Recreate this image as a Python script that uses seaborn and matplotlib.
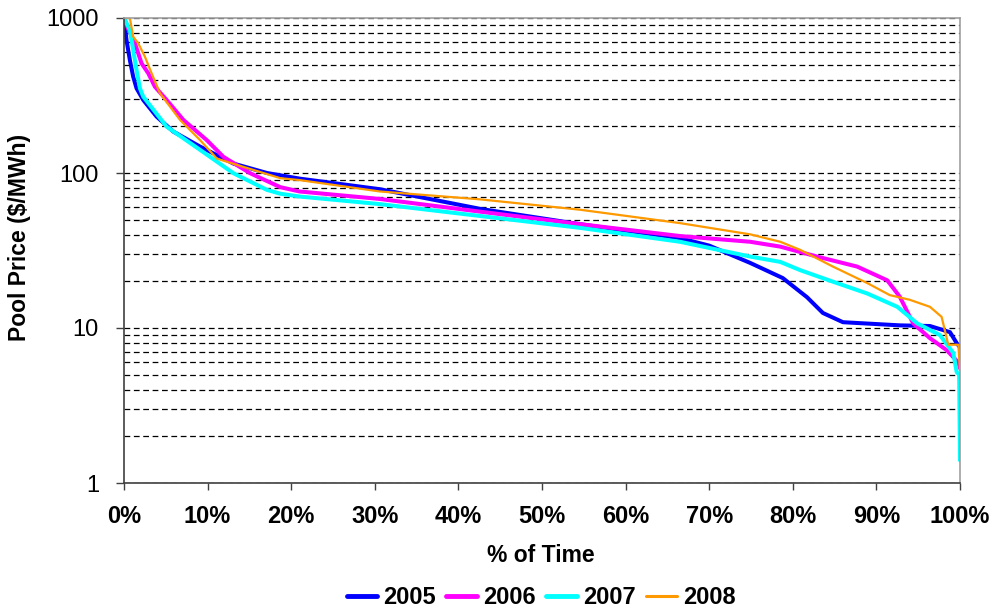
import numpy as np
import pandas as pd
import seaborn as sns
import matplotlib
matplotlib.use("Agg")
import matplotlib.pyplot as plt
from matplotlib.ticker import FixedLocator, FuncFormatter, LogLocator, NullFormatter

# ---- data ----
x_2005 = [0, 0.3, 0.7, 1.1, 1.5, 2.3, 3.9, 5.9, 9.1, 13.1, 17.1, 21, 30.6, 42.6, 54.5,
          66.5, 70, 74.9, 78.8, 81.7, 83.6, 86, 92.8, 96.4, 98.8, 99.6, 100]
y_2005 = [1000, 720, 536, 418, 352, 296, 231, 185, 148, 115, 100, 92, 78.6, 58.7, 46.8,
          38, 34, 26.3, 21, 15.8, 12.5, 10.9, 10.4, 10.3, 9.4, 8, 7.5]

x_2006 = [0, 0.5, 1.3, 1.7, 2.1, 2.9, 3.7, 5.1, 7.1, 9.9, 11.9, 15.1, 18.7, 21, 30.6,
          42.6, 54.5, 66.5, 74.9, 78.5, 82.9, 87.7, 91.3, 92.8, 94.4, 96.4, 98.4, 99.8, 100]
y_2006 = [1000, 850, 687, 592, 510, 440, 360, 296, 220, 163, 127, 99.6, 81, 76, 68,
          56.3, 46.8, 39.2, 36, 33.5, 28.9, 24.9, 20.3, 15.9, 10.7, 8.6, 7.2, 6, 5.5]

x_2007 = [0, 0.7, 1.1, 1.5, 1.9, 2.3, 5.1, 9.1, 13.1, 17.1, 18.7, 21, 30.6, 42.6, 54.5,
          66.5, 74.9, 78.5, 80.9, 84.8, 88.9, 92.5, 94.9, 97.6, 99.2, 99.6, 99.9, 100]
y_2007 = [1000, 837, 622, 462, 352, 311, 199, 141, 99.6, 77.8, 73.5, 70.5, 63, 52.8, 44.3,
          36, 28.9, 26.7, 23.6, 19.9, 16.7, 13.7, 10.7, 9, 6.9, 5.2, 5, 1.4]

x_2008 = [0, 0.7, 1.1, 1.7, 2.5, 3.3, 4.3, 6.7, 9.1, 11.1, 13, 18.7, 21, 30.6, 42.6,
          54.5, 66.5, 74.9, 78.5, 80.9, 84.8, 88.9, 91.6, 94, 96.4, 97.8, 98.6, 99.8, 100]
y_2008 = [1000, 1000, 757, 687, 563, 440, 327, 220, 163, 124, 115, 92.6, 90, 76, 67.6,
          58, 47.5, 40.2, 36, 31.9, 24.9, 19.5, 16.3, 15.2, 13.7, 11.8, 7.8, 7.8, 5.35]

years = ["2005", "2006", "2007", "2008"]
xs = [x_2005, x_2006, x_2007, x_2008]
ys = [y_2005, y_2006, y_2007, y_2008]

x_ticks = [0, 10, 20, 30, 40, 50, 60, 70, 80, 90, 100]
y_ticks = [1, 10, 100, 1000]

colors = {"2005": "#0000FF", "2006": "#FF00FF", "2007": "#00FFFF", "2008": "#FF9900"}
widths = {"2005": 2.9, "2006": 2.9, "2007": 2.9, "2008": 1.6}

df = pd.concat(
    [pd.DataFrame({"pct": x, "price": y, "year": yr}) for x, y, yr in zip(xs, ys, years)],
    ignore_index=True,
)

# ---- plotting ----
sns.set_style("white")
plt.rcParams["font.family"] = ["Liberation Sans", "DejaVu Sans"]
plt.rcParams["text.color"] = "black"
plt.rcParams["axes.labelcolor"] = "black"
plt.rcParams["xtick.color"] = "black"
plt.rcParams["ytick.color"] = "black"

fig = plt.figure(figsize=(9.95, 6.14), dpi=100)
ax = fig.add_axes([124 / 995, 1 - 483 / 614, (960 - 124) / 995, (483 - 18) / 614])

for yr in years:
    sns.lineplot(data=df[df["year"] == yr], x="pct", y="price", color=colors[yr],
                 linewidth=widths[yr], ax=ax, label=yr, estimator=None, sort=False,
                 legend=False)

ax.set_yscale("log")
ax.set_ylim(1, 1000)
ax.set_xlim(0, 100)

ax.xaxis.set_major_locator(FixedLocator(x_ticks))
ax.xaxis.set_major_formatter(FuncFormatter(lambda v, p: f"{int(v)}%"))
ax.yaxis.set_major_locator(FixedLocator(y_ticks))
ax.yaxis.set_major_formatter(FuncFormatter(lambda v, p: f"{int(v)}"))
ax.yaxis.set_minor_locator(LogLocator(base=10, subs=np.arange(2, 10)))
ax.yaxis.set_minor_formatter(NullFormatter())

ax.grid(False)
ax.grid(True, which="both", axis="y", color="black", linewidth=0.9,
        linestyle=(0, (4.6, 2.9)))
ax.set_axisbelow(True)

ax.tick_params(axis="x", which="major", direction="out", length=5, width=1,
               color="#404040", labelcolor="black", bottom=True, labelsize=17, pad=11)
ax.tick_params(axis="y", which="major", direction="out", length=6, width=1,
               color="#404040", labelcolor="black", left=True, labelsize=17, pad=12)
ax.tick_params(axis="y", which="minor", length=0)
for lbl in ax.get_xticklabels():
    lbl.set_fontweight("bold")

for s in ["left", "bottom"]:
    ax.spines[s].set_color("#404040")
    ax.spines[s].set_linewidth(1.2)
for s in ["top", "right"]:
    ax.spines[s].set_color("#a0a0a0")
    ax.spines[s].set_linewidth(1.2)
    ax.spines[s].set_visible(True)

ax.set_xlabel("% of Time", fontsize=16.5, fontweight="bold", color="black")
ax.xaxis.set_label_coords((541 - 124) / 836, (483 - 556) / 465)
ax.xaxis.label.set_va("center")
ax.set_ylabel("Pool Price ($/MWh)", fontsize=16.5, fontweight="bold", color="black")
ax.yaxis.set_label_coords((20 - 124) / 836, (483 - 237) / 465)
ax.yaxis.label.set_va("center")

handles = [plt.Line2D([0], [0], color=colors[yr], linewidth=widths[yr] + 0.6) for yr in years]
leg = fig.legend(handles, years, loc="center", bbox_to_anchor=(541 / 995, 1 - 598 / 614),
                 ncol=4, frameon=False, prop={"weight": "bold", "size": 17},
                 handlelength=1.3, handletextpad=0.25, columnspacing=0.45,
                 labelcolor="black")

fig.savefig("out.png", dpi=100)
